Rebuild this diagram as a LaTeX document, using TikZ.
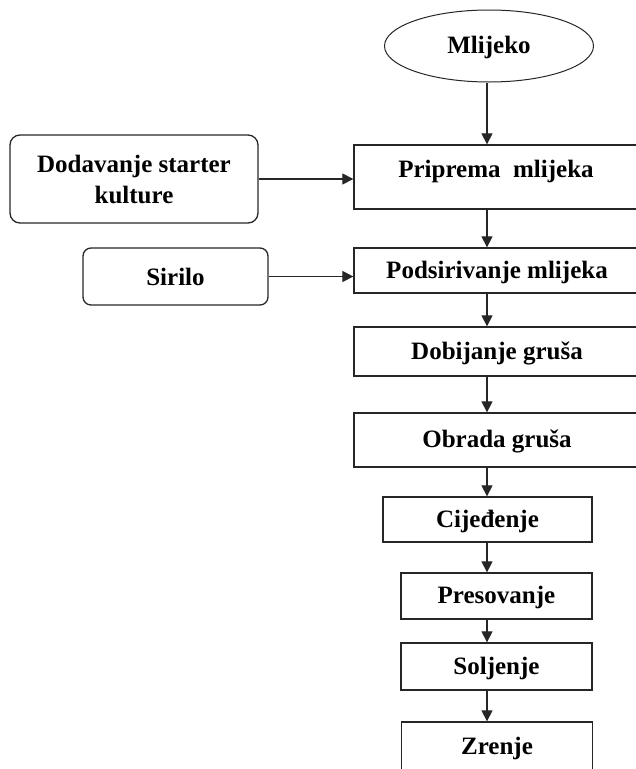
\documentclass[tikz,border=0pt]{standalone}
\usepackage{fontspec}
\setmainfont{Liberation Serif}
\usetikzlibrary{shapes.geometric,arrows.meta}
\tikzset{
  korak/.style={draw=black!85, line width=1.3pt, rectangle, inner sep=0pt,
    text height=17pt, text depth=2pt, font=\fontsize{25}{31}\selectfont\bfseries},
  ulaz/.style={korak, rounded corners=10pt, align=center, text height=, text depth=},
  tok/.style={draw=black!85, line width=1.2pt, -{Triangle[width=11pt,length=11pt]}},
}
\begin{document}
\begin{tikzpicture}[x=1pt,y=-1pt]
      \clip (0,0) rectangle (636,769);
      \coordinate (os) at (487,0);
      \draw
        (489,46) node[korak, ellipse, line width=1pt, minimum width=209pt, minimum height=72pt] (mlijeko){Mlijeko}
        (496,177) node[korak, minimum width=284pt, minimum height=64pt, text height=14pt, text depth=14pt] (priprema){Priprema\ \ mlijeka}
        (497,270.5) node[korak, minimum width=286pt, minimum height=45pt] (podsirivanje){Podsirivanje mlijeka}
        (497,351.5) node[korak, minimum width=286pt, minimum height=49pt] (dobijanje){Dobijanje gruša}
        (497,440) node[korak, minimum width=286pt, minimum height=54pt] (obrada){Obrada gruša}
        (487.5,519.5) node[korak, minimum width=209pt, minimum height=45pt] (cijedjenje){Cijeđenje}
        (496.5,596) node[korak, minimum width=191pt, minimum height=46pt] (presovanje){Presovanje}
        (496.5,666.5) node[korak, minimum width=191pt, minimum height=47pt] (soljenje){Soljenje}
        (497,747) node[korak, minimum width=191pt, minimum height=50pt] (zrenje){Zrenje}
        (134,179) node[ulaz, minimum width=248pt, minimum height=88pt] (starter){Dodavanje starter\\kulture}
        (175.5,276.5) node[ulaz, rounded corners=8pt, minimum width=185pt, minimum height=57pt] (sirilo){Sirilo};
      \begin{scope}[tok]
        \draw (mlijeko.south -| os) to (priprema.north -| os);
        \draw (priprema.south -| os) to (podsirivanje.north -| os);
        \draw (podsirivanje.south -| os) to (dobijanje.north -| os);
        \draw (dobijanje.south -| os) to (obrada.north -| os);
        \draw (obrada.south -| os) to (cijedjenje.north -| os);
        \draw (cijedjenje.south -| os) to (presovanje.north -| os);
        \draw (presovanje.south -| os) to (soljenje.north -| os);
        \draw (soljenje.south -| os) to (zrenje.north -| os);
        \draw (starter.east) to (priprema.west |- starter.east);
        \draw (sirilo.east) to (podsirivanje.west |- sirilo.east);
      \end{scope}
    \end{tikzpicture}
\end{document}
